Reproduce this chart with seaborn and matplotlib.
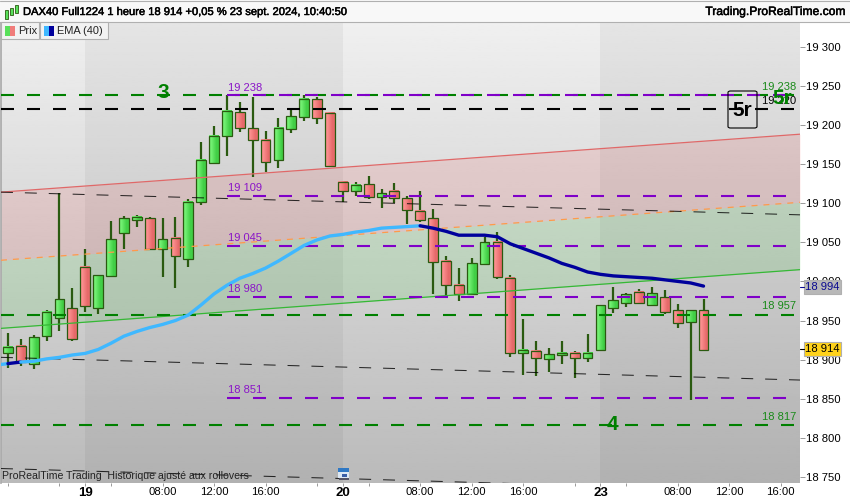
import numpy as np
import pandas as pd
import seaborn as sns
import matplotlib.pyplot as plt
import matplotlib.patheffects as pe
from matplotlib.colors import LinearSegmentedColormap
from matplotlib.patches import Rectangle, FancyBboxPatch

# hourly candles, DAX40 Full1224
opens = [18908,18918,18895,18930,18953,18966,19018,18966,19007,19062,19078,19081,19042,19055,19028,19101,19151,19186,19216,19196,19181,19155,19195,19210,19233,19215,19127,19115,19124,19108,19115,19106,19090,19081,19026,18996,18984,19022,19050,19004,18908,18911,18901,18906,18909,18902,18913,18966,18973,18987,18970,18980,18963,18948,18964]
closes = [18916,18897,18929,18961,18977,18927,18968,19008,19054,19081,19082,19042,19054,19032,19101,19155,19186,19218,19196,19181,19152,19196,19211,19233,19209,19147,19115,19123,19108,19113,19106,19091,19078,19025,18995,18984,19023,19050,19005,18908,18913,18902,18907,18909,18902,18909,18970,18976,18984,18972,18985,18961,18947,18963,18913]
highs = [18934,18927,18931,18964,19113,18991,19042,19008,19077,19083,19085,19082,19081,19082,19105,19178,19198,19238,19229,19236,19192,19209,19219,19238,19236,19215,19127,19127,19135,19118,19126,19109,19115,19092,19032,19017,19030,19057,19063,19008,18952,18924,18915,18924,18911,18933,18970,18993,18985,18990,18993,18989,18971,18963,18977]
lows = [18890,18892,18888,18924,18936,18924,18961,18958,19007,19042,19069,19040,19005,18991,19018,19097,19151,19160,19191,19133,19140,19145,19189,19205,19201,19147,19101,19109,19105,19094,19100,19073,19076,18984,18980,18975,18982,19021,19003,18904,18880,18879,18884,18895,18876,18897,18913,18959,18967,18972,18970,18958,18941,18849,18912]
ema = [18895,18897,18898,18901,18903,18906,18908,18913,18921,18930,18936,18941,18945,18950,18957,18970,18984,18995,19004,19010,19017,19026,19036,19046,19053,19058,19060,19063,19065,19068,19069,19070,19071,19068,19064,19059,19059,19059,19057,19048,19042,19036,19030,19023,19018,19012,19009,19007,19006,19005,19004,19002,19000,18998,18994]
ema_before = 18893

# channel and trend lines, values at left and right edge
edge_x = [-0.54, 61.49]
chan_red = [19114, 19188]
chan_mid = [19027, 19101]
chan_green = [18940, 19015]
trend_upper = [19114, 19085]
trend_lower = [18903, 18874]
trend_bottom = [18761, 18731]

green_levels = [19238, 18957, 18817]
black_levels = [19220]
purple_levels = [19238, 19109, 19045, 18980, 18851]
purple_labels = ['19 238', '19 109', '19 045', '18 980', '18 851']

price_ticks = [19300, 19250, 19200, 19150, 19100, 19050, 19000, 18950, 18900, 18850, 18800, 18750]
price_labels = ['19 300', '19 250', '19 200', '19 150', '19 100', '19 050', '19 000', '18 950', '18 900', '18 850', '18 800', '18 750']
time_ticks = [6, 12, 16, 20, 26, 32, 36, 40, 46, 52, 56, 60]
time_labels = ['19', '08:00', '12:00', '16:00', '20', '08:00', '12:00', '16:00', '23', '08:00', '12:00', '16:00']
minor_ticks = [0, 4, 8, 24, 28, 44, 48]

sns.set_theme(style='white')
plt.rcParams['font.family'] = ['Liberation Sans', 'DejaVu Sans']
plt.rcParams['lines.scale_dashes'] = False

W, H = 850, 500
def fx(x): return x / W
def fy(y): return 1 - y / H

fig = plt.figure(figsize=(8.5, 5), dpi=100, facecolor='white')
ax = fig.add_axes([fx(1), fy(483), fx(799), 461 / H])

# vertical grey gradient + darker day bands
ax.imshow(np.linspace(0.94, 0.73, 200).reshape(-1, 1), extent=[0, 1, 0, 1], transform=ax.transAxes,
          cmap='gray', vmin=0, vmax=1, aspect='auto', zorder=0)
ax.axvspan(6, 26, color='black', alpha=0.045, lw=0, zorder=1)
ax.axvspan(46, 61.49, color='black', alpha=0.045, lw=0, zorder=1)

ax.fill_between(edge_x, chan_mid, chan_red, color=(1, 0, 0), alpha=0.09, lw=0, zorder=2)
ax.fill_between(edge_x, chan_green, chan_mid, color=(0, 0.8, 0), alpha=0.10, lw=0, zorder=2)

idx = np.arange(len(opens))
o, c, hi, lo = map(np.array, (opens, closes, highs, lows))
up = c >= o
green_map = LinearSegmentedColormap.from_list('g', ['#72f072', '#42cf46'])
red_map = LinearSegmentedColormap.from_list('r', ['#fb8e8e', '#e66a6a'])
body_w = 0.76
ax.vlines(idx, lo, hi, color='#2a5a10', lw=1.6, zorder=3)
for i in idx:
    ax.imshow([[0.0, 1.0]], extent=[i - body_w / 2, i + body_w / 2, min(o[i], c[i]), max(o[i], c[i])],
              cmap=green_map if up[i] else red_map, aspect='auto', interpolation='bilinear', zorder=4)
ax.bar(idx, c - o, bottom=o, width=body_w, fc='none', edgecolor='#2a5a10', lw=0.9, zorder=4.5)

# channel lines
ax.plot(edge_x, chan_red, color='#e06868', lw=0.9, zorder=5)
ax.plot(edge_x, chan_green, color='#35b835', lw=0.9, zorder=5)
ax.plot(edge_x, chan_mid, color='#ff9a4a', lw=0.9, ls=(0, (4.3, 4.3)), zorder=5)
for t in (trend_upper, trend_lower, trend_bottom):
    ax.plot(edge_x, t, color='black', lw=0.75, alpha=0.8, ls=(0, (8.6, 8.6)), zorder=5)

dash = (0, (9.36, 9.36))
for v in green_levels:
    ax.plot([-0.54, 61.0], [v, v], color='#008000', lw=1.5, ls=dash, dash_capstyle='butt', zorder=6)
for v in black_levels:
    ax.plot([-0.54, 61.0], [v, v], color='black', lw=1.5, ls=dash, dash_capstyle='butt', zorder=6)
for v in purple_levels:
    ax.plot([17.0, 60.4], [v, v], color='#7f00c8', lw=1.5, ls=dash, dash_capstyle='butt', zorder=6)

# EMA, light while rising and dark while falling
df = pd.DataFrame({'i': idx, 'ema': ema})
sns.lineplot(x=[-1, 0], y=[ema_before, ema[0]], color='#3fb8ff', lw=2.4, ax=ax, zorder=7)
sns.lineplot(data=df.iloc[:2], x='i', y='ema', color='#00009c', lw=2.4, ax=ax, zorder=7)
sns.lineplot(data=df.iloc[1:33], x='i', y='ema', color='#3fb8ff', lw=2.4, ax=ax, zorder=7)
sns.lineplot(data=df.iloc[32:], x='i', y='ema', color='#00009c', lw=2.4, ax=ax, zorder=7)

ax.set_xlim(edge_x)
ax.set_ylim(18742.5, 19331.3)
ax.set_xlabel('')
ax.set_ylabel('')
ax.yaxis.tick_right()
ax.set_yticks(price_ticks, price_labels, fontsize=8.1, color='black')
ax.tick_params(axis='y', length=3.5, width=0.7, color='#999999', pad=1, right=True)
ax.set_xticks(time_ticks, time_labels, fontsize=8.1, color='black')
ax.set_xticks(minor_ticks, minor=True)
ax.tick_params(axis='x', which='both', length=2.2, width=0.7, color='#999999', pad=1.0, bottom=True)
for lab, txt in zip(ax.get_xticklabels(), time_labels):
    if ':' not in txt:
        lab.set_fontweight('bold')
        lab.set_fontsize(9.5)
for s in ax.spines.values():
    s.set_visible(False)
ax.spines['left'].set_visible(True)
ax.spines['left'].set_color('#aaaaaa')

# texts on the chart
for px, val in zip([88, 188, 238, 289, 390], purple_labels):
    fig.text(fx(245), fy(px), val, color='#8a14c8', fontsize=8.0, ha='center', va='center', zorder=8)
fig.text(fx(779), fy(87), '19 238', color='#1a8a1a', fontsize=8.0, ha='center', va='center', zorder=8)
fig.text(fx(779), fy(101), '19 220', color='black', fontsize=8.0, ha='center', va='center', zorder=8)
fig.text(fx(779), fy(306), '18 957', color='#1a8a1a', fontsize=8.0, ha='center', va='center', zorder=8)
fig.text(fx(779), fy(417), '18 817', color='#1a8a1a', fontsize=8.0, ha='center', va='center', zorder=8)
fig.text(fx(163), fy(93), '3', color='#008000', fontsize=15, fontweight='bold', ha='center', va='center', zorder=8)
fig.text(fx(612), fy(424), '4', color='#008000', fontsize=15, fontweight='bold', ha='center', va='center', zorder=8)
fig.text(fx(782), fy(98), '5r', color='#008000', fontsize=15, fontweight='bold', ha='center', va='center', zorder=8)
fig.add_artist(FancyBboxPatch((fx(728), fy(128)), 29 / W, 37 / H, boxstyle='round,pad=0,rounding_size=0.003',
                              fc='none', ec='black', lw=0.8, transform=fig.transFigure, zorder=8))
fig.text(fx(742), fy(110), '5r', color='black', fontsize=15, fontweight='bold', ha='center', va='center', zorder=9)
fig.text(fx(2), fy(476), 'ProRealTime Trading  Historique ajusté aux rollovers', color='#222222', fontsize=7.55,
         ha='left', va='center', zorder=8)

# last value tags on the price scale
def tag(y, txt, fc, col, ec):
    fig.add_artist(Rectangle((fx(804), fy(y + 7)), 37 / W, 14 / H, fc=fc, ec=ec, lw=0.8, transform=fig.transFigure, zorder=8))
    fig.text(fx(822.5), fy(y), txt, color=col, fontsize=8.1, ha='center', va='center', zorder=9)
    fig.add_artist(plt.Line2D([fx(800), fx(804)], [fy(y), fy(y)], color=col, lw=0.8, transform=fig.transFigure, zorder=8))
tag(286.5, '18 994', '#b8b8b8', '#0a0a90', '#b0b0b0')
tag(348.5, '18 914', '#ffd21a', 'black', '#b0b0b0')

# small calendar icon at the bottom of the chart
for x0, y0, w, h, col in [(338, 468, 11, 10, '#dce8f5'), (338, 468, 11, 3.5, '#2f78c4'), (342, 474, 5, 3, '#3a5fa8'), (339, 478, 10, 2, '#555566')]:
    fig.add_artist(Rectangle((fx(x0), fy(y0 + h)), w / W, h / H, fc=col, ec='none', transform=fig.transFigure, zorder=8))

# header strip
heavy = [pe.withStroke(linewidth=0.35, foreground='black')]
fig.add_artist(Rectangle((0, fy(22)), 1, 22 / H, fc='#f8f8f8', ec='none', transform=fig.transFigure, zorder=5))
fig.add_artist(plt.Line2D([0, 1], [fy(21.5), fy(21.5)], color='#b0b0b0', lw=0.8, transform=fig.transFigure, zorder=6))
fig.add_artist(plt.Line2D([0, 1], [fy(0.5), fy(0.5)], color='#b0b0b0', lw=0.8, transform=fig.transFigure, zorder=6))
fig.text(fx(23), fy(12), 'DAX40 Full1224 1 heure 18 914 +0,05 % 23 sept. 2024, 10:40:50', color='black',
         fontsize=8.03, ha='left', va='center', zorder=8, path_effects=heavy)
fig.text(fx(846), fy(12), 'Trading.ProRealTime.com', color='black', fontsize=8.7, ha='right', va='center', zorder=8, path_effects=heavy)
for x0, y0, h in [(5, 10, 9), (10, 8, 7), (15, 5, 8)]:
    fig.add_artist(Rectangle((fx(x0), fy(y0 + h)), 3 / W, h / H, fc='#58e05a', ec='#2a5a10', lw=0.6, transform=fig.transFigure, zorder=8))

# legend boxes
for x0, w in [(1, 38), (40, 68)]:
    fig.add_artist(Rectangle((fx(x0), fy(39)), w / W, 17 / H, fc='#f2f2f2', ec='#b0b0b0', lw=0.8, transform=fig.transFigure, zorder=8))
for x0, col in [(5, '#58e05a'), (10, '#f07c7a'), (44, '#3fb8ff'), (49, '#00009c')]:
    fig.add_artist(Rectangle((fx(x0), fy(36)), 5 / W, 10 / H, fc=col, ec='none', transform=fig.transFigure, zorder=9))
fig.text(fx(18), fy(30.5), 'Prix', color='#222222', fontsize=7.9, ha='left', va='center', zorder=9)
fig.text(fx(57), fy(30.5), 'EMA (40)', color='#222222', fontsize=7.9, ha='left', va='center', zorder=9)

plt.savefig('out.png', dpi=100)
